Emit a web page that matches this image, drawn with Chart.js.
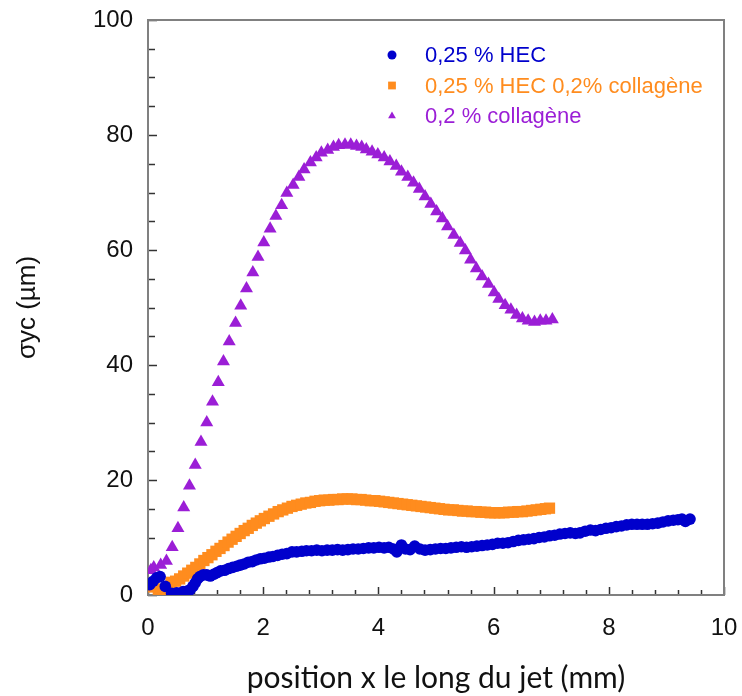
<!DOCTYPE html>
<html>
<head>
<meta charset="utf-8">
<script src="https://cdn.jsdelivr.net/npm/chart.js@4.4.1/dist/chart.umd.min.js"></script>
<style>
html, body { margin: 0; padding: 0; background: #fff; }
</style>
</head>
<body>
<canvas id="graph" width="742" height="696"></canvas>
<script>
// 0,25 % HEC
var hecX = [0.03,0.09,0.15,0.21,0.3,0.41,0.5,0.61,0.68,0.73,0.78,0.82,0.86,0.9,0.96,1.02,1.08,1.14,1.2,1.26,1.33,1.4,1.47,1.54,1.6,1.67,1.74,1.81,1.88,1.95,2.02,2.1,2.17,2.25,2.33,2.41,2.5,2.58,2.67,2.75,2.84,2.93,3.02,3.11,3.2,3.29,3.38,3.47,3.56,3.65,3.74,3.83,3.92,4.01,4.1,4.18,4.26,4.32,4.4,4.47,4.55,4.63,4.72,4.81,4.9,4.99,5.08,5.17,5.26,5.35,5.44,5.53,5.62,5.71,5.8,5.89,5.98,6.07,6.16,6.25,6.34,6.43,6.52,6.61,6.7,6.79,6.88,6.97,7.06,7.15,7.24,7.33,7.42,7.5,7.59,7.68,7.77,7.86,7.95,8.04,8.13,8.22,8.31,8.4,8.49,8.58,8.67,8.76,8.85,8.94,9.03,9.12,9.2,9.27,9.33,9.41];
var hecY = [1.8,2.4,3.0,3.2,1.5,0.3,0.4,0.6,0.7,0.9,1.5,2.1,2.8,3.2,3.5,3.5,3.3,3.6,3.9,4.2,4.3,4.6,4.8,5.0,5.2,5.4,5.7,5.8,6.1,6.3,6.4,6.6,6.7,6.9,7.1,7.2,7.5,7.5,7.6,7.7,7.7,7.8,7.7,7.8,7.8,7.9,7.8,7.9,8.0,8.0,8.1,8.2,8.2,8.3,8.2,8.3,8.0,7.5,8.7,8.0,7.9,8.5,8.0,7.8,7.9,8.0,8.1,8.1,8.2,8.3,8.4,8.3,8.4,8.5,8.6,8.7,8.8,9.0,9.0,9.1,9.3,9.5,9.6,9.7,9.8,10.0,10.1,10.3,10.4,10.6,10.7,10.8,10.7,10.8,11.1,11.3,11.2,11.4,11.6,11.7,11.9,12.0,12.2,12.3,12.3,12.3,12.3,12.4,12.5,12.7,12.9,13.0,13.1,13.2,12.8,13.2];

// 0,25 % HEC 0,2% collagène
var mixX = [0.03,0.1,0.18,0.26,0.33,0.4,0.48,0.55,0.62,0.69,0.76,0.83,0.9,0.97,1.04,1.11,1.18,1.25,1.32,1.39,1.46,1.53,1.6,1.67,1.74,1.81,1.88,1.95,2.02,2.1,2.18,2.26,2.34,2.42,2.5,2.58,2.66,2.74,2.82,2.9,2.98,3.06,3.14,3.22,3.3,3.38,3.46,3.54,3.62,3.7,3.78,3.86,3.94,4.02,4.1,4.18,4.26,4.34,4.42,4.5,4.58,4.66,4.74,4.82,4.9,4.98,5.06,5.14,5.22,5.3,5.38,5.46,5.54,5.62,5.7,5.78,5.86,5.94,6.02,6.1,6.18,6.26,6.34,6.42,6.5,6.58,6.66,6.74,6.82,6.9,6.97];
var mixY = [1.5,1.4,1.0,0.5,0.4,2.2,2.4,2.8,3.3,3.8,4.3,4.8,5.4,6.0,6.5,7.0,7.6,8.1,8.6,9.2,9.7,10.2,10.7,11.2,11.6,12.1,12.5,12.9,13.3,13.7,14.1,14.5,14.8,15.1,15.4,15.6,15.8,16.0,16.1,16.3,16.4,16.5,16.5,16.6,16.6,16.7,16.7,16.7,16.6,16.6,16.5,16.4,16.4,16.3,16.2,16.1,16.0,15.9,15.8,15.7,15.6,15.5,15.4,15.3,15.2,15.1,15.0,14.9,14.8,14.8,14.7,14.6,14.6,14.5,14.5,14.4,14.4,14.3,14.3,14.3,14.3,14.4,14.4,14.5,14.5,14.6,14.7,14.8,14.9,15.0,15.1];

// 0,2 % collagène
var colX = [0.05,0.1,0.22,0.32,0.42,0.52,0.62,0.72,0.82,0.92,1.02,1.12,1.22,1.31,1.41,1.52,1.61,1.71,1.82,1.91,2.01,2.12,2.22,2.32,2.41,2.52,2.62,2.71,2.82,2.92,3.01,3.12,3.22,3.31,3.42,3.52,3.62,3.71,3.79,3.89,3.99,4.1,4.2,4.31,4.4,4.51,4.61,4.71,4.81,4.91,5.01,5.11,5.2,5.31,5.42,5.51,5.6,5.7,5.8,5.91,6.01,6.09,6.2,6.3,6.4,6.5,6.6,6.71,6.81,6.91,7.02];
var colY = [4.3,4.8,5.2,5.9,8.3,11.6,15.2,19.0,22.6,26.6,30.0,33.6,37.0,40.6,44.1,47.3,50.3,53.3,56.1,58.8,61.3,63.7,65.9,67.8,69.9,71.3,72.7,74.0,75.2,76.1,76.9,77.4,77.9,78.2,78.3,78.3,78.1,77.9,77.5,77.1,76.6,76.1,75.4,74.6,73.6,72.7,71.7,70.6,69.3,68.0,66.7,65.5,64.1,62.6,61.2,59.9,58.3,56.8,55.4,54.1,52.6,51.5,50.4,49.6,48.7,48.1,47.7,47.5,47.7,47.7,47.9];

var seriesLabels = ['0,25 % HEC', '0,25 % HEC 0,2% collagène', '0,2 % collagène'];
var seriesColors = ['#0000CC', '#FF8C1E', '#9B1ED6'];
var xTicks = [0, 2, 4, 6, 8, 10];
var yTicks = [0, 20, 40, 60, 80, 100];

function pairs(xs, ys) {
    var out = [];
    for (var i = 0; i < xs.length; i++) out.push({ x: xs[i], y: ys[i] });
    return out;
}

// cadre + graduations vers l'intérieur + légende dans le graphe
var cadre = {
    id: 'cadre',
    beforeDatasetsDraw(chart) {
        var ctx = chart.ctx, a = chart.chartArea;
        var sx = chart.scales.x, sy = chart.scales.y;
        ctx.save();
        ctx.strokeStyle = '#333';
        ctx.lineWidth = 1.5;
        for (var v = 0; v <= 10.001; v += 0.4) {
            var px = Math.round(sx.getPixelForValue(v)) + 0.5;
            var major = Math.abs(v / 2 - Math.round(v / 2)) < 0.01;
            ctx.beginPath();
            ctx.moveTo(px, a.bottom);
            ctx.lineTo(px, a.bottom - (major ? 8 : 5));
            ctx.stroke();
        }
        for (var w = 0; w <= 100; w += 5) {
            var py = Math.round(sy.getPixelForValue(w)) + 0.5;
            ctx.beginPath();
            ctx.moveTo(a.left, py);
            ctx.lineTo(a.left + (w % 20 == 0 ? 9 : 7), py);
            ctx.stroke();
        }
        ctx.strokeStyle = '#808080';
        ctx.lineWidth = 2;
        ctx.strokeRect(a.left, a.top, a.right - a.left, a.bottom - a.top);
        ctx.restore();
    },
    afterDraw(chart) {
        var ctx = chart.ctx, a = chart.chartArea;
        ctx.save();
        chart.data.datasets.forEach(function (ds, i) {
            var y = a.top + 35 + i * 30.5;
            ctx.fillStyle = ds.backgroundColor;
            Chart.helpers.drawPoint(ctx, { pointStyle: ds.pointStyle, radius: ds.pointStyle == 'rect' ? 5.5 : 4.5, borderWidth: 0, rotation: 0 }, a.left + 244, y);
            ctx.font = '22px "Liberation Sans", Arial, sans-serif';
            ctx.textBaseline = 'middle';
            ctx.fillText(ds.label, a.left + 277, y + 1);
        });
        ctx.restore();
    }
};

const ctx = document.getElementById('graph');

new Chart(ctx, {
    type: 'scatter',
    data: {
        datasets: [{
            label: seriesLabels[0],
            data: pairs(hecX, hecY),
            pointStyle: 'circle',
            pointRadius: 5.8,
            backgroundColor: seriesColors[0],
            borderColor: seriesColors[0],
            borderWidth: 0
        }, {
            label: seriesLabels[1],
            data: pairs(mixX, mixY),
            pointStyle: 'rect',
            pointRadius: 8,
            backgroundColor: seriesColors[1],
            borderColor: seriesColors[1],
            borderWidth: 0
        }, {
            label: seriesLabels[2],
            data: pairs(colX, colY),
            pointStyle: 'triangle',
            pointRadius: 7.5,
            backgroundColor: seriesColors[2],
            borderColor: seriesColors[2],
            borderWidth: 0
        }]
    },
    options: {
        responsive: false,
        animation: false,
        devicePixelRatio: 1,
        layout: { padding: { left: 0, top: 20, right: 18, bottom: 0 } },
        plugins: {
            legend: { display: false },
            tooltip: { enabled: false }
        },
        scales: {
            x: {
                type: 'linear',
                min: 0,
                max: 10,
                afterBuildTicks: function (scale) { scale.ticks = xTicks.map(function (v) { return { value: v }; }); },
                afterFit: function (scale) {
                    scale.height = 101;
                    scale.paddingLeft = 0;
                    scale.paddingRight = 0;
                },
                grid: { display: false, drawTicks: false },
                border: { display: false },
                ticks: {
                    color: '#111',
                    padding: 19,
                    maxRotation: 0,
                    font: { family: '"Liberation Sans", Arial, sans-serif', size: 24 }
                },
                title: {
                    display: true,
                    text: 'position x le long du jet (mm)',
                    color: '#111',
                    padding: { top: 0, bottom: 0 },
                    font: { family: 'Lato, "Open Sans", sans-serif', size: 30 }
                }
            },
            y: {
                type: 'linear',
                min: 0,
                max: 100,
                afterBuildTicks: function (scale) { scale.ticks = yTicks.map(function (v) { return { value: v }; }); },
                afterFit: function (scale) {
                    scale.width = 148;
                    scale.paddingTop = 0;
                    scale.paddingBottom = 0;
                },
                grid: { display: false, drawTicks: false },
                border: { display: false },
                ticks: {
                    color: '#111',
                    padding: 15,
                    font: { family: '"Liberation Sans", Arial, sans-serif', size: 24 }
                },
                title: {
                    display: true,
                    text: 'σyc (µm)',
                    color: '#111',
                    padding: { top: 12, bottom: 0 },
                    font: { family: '"Liberation Sans", Arial, sans-serif', size: 26 }
                }
            }
        }
    },
    plugins: [cadre]
});
</script>
</body>
</html>
